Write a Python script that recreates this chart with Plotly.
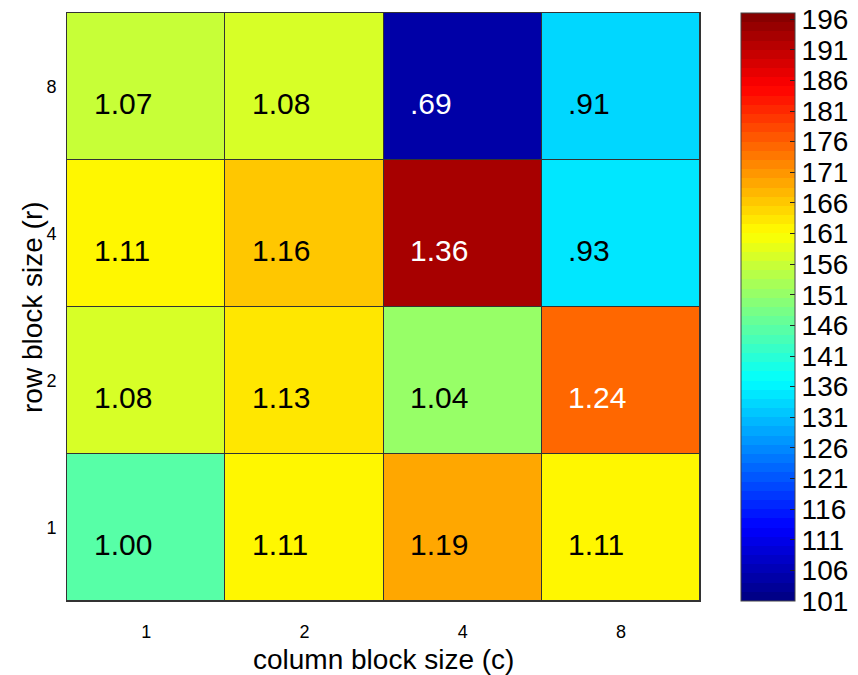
import plotly.graph_objects as go

col_labels = ["1", "2", "4", "8"]
row_labels = ["1", "2", "4", "8"]
# color values (Mflop/s) per row (r = 1, 2, 4, 8 bottom to top), columns c = 1, 2, 4, 8
color_vals = [
    [145.5, 161, 169, 161],
    [156.5, 163, 151, 175],
    [161, 166, 193, 134],
    [155, 156.5, 104, 133.5],
]
speedup_text = [
    ["1.00", "1.11", "1.19", "1.11"],
    ["1.08", "1.13", "1.04", "1.24"],
    ["1.11", "1.16", "1.36", ".93"],
    ["1.07", "1.08", ".69", ".91"],
]
text_white = [
    [0, 0, 0, 0],
    [0, 0, 0, 1],
    [0, 0, 1, 0],
    [0, 0, 1, 0],
]
cbar_ticks = [101, 106, 111, 116, 121, 126, 131, 136, 141, 146, 151, 156,
              161, 166, 171, 176, 181, 186, 191, 196]
cmin, cmax = 101, 197


def jet_rgb(x):
    def c(v):
        return max(0.0, min(1.0, v))
    r = c(1.5 - abs(4 * x - 3))
    g = c(1.5 - abs(4 * x - 2))
    b = c(1.5 - abs(4 * x - 1))
    return f"rgb({int(r*255)},{int(g*255)},{int(b*255)})"


N = 64
colorscale = []
for i in range(N):
    col = jet_rgb((i + 0.5) / N)
    colorscale.append([i / N, col])
    colorscale.append([(i + 1) / N, col])

xs = list(range(len(col_labels)))
ys = list(range(len(row_labels)))

FONT = "Liberation Sans"
PW, PH = 633, 588

fig = go.Figure()
fig.add_trace(go.Heatmap(
    x=xs, y=ys, z=color_vals,
    zmin=cmin, zmax=cmax,
    colorscale=colorscale,
    xgap=1, ygap=1,
    hoverinfo="skip",
    colorbar=dict(
        x=(741 - 67) / PW, xanchor="left", xpad=0, y=0, yanchor="bottom", ypad=0,
        len=1, lenmode="fraction", thickness=54, thicknessmode="pixels",
        outlinecolor="#444", outlinewidth=1,
        tickvals=cbar_ticks, ticktext=[str(t) for t in cbar_ticks],
        ticks="inside", ticklen=5, tickcolor="#222",
        tickfont=dict(size=28, color="black", family=FONT),
    ),
))

annotations = []
for ri in range(len(row_labels)):
    for ci in range(len(col_labels)):
        annotations.append(dict(
            x=ci - 0.345, y=ri - 0.115, xref="x", yref="y",
            text=speedup_text[ri][ci], showarrow=False,
            xanchor="left", yanchor="middle",
            font=dict(size=30, family=FONT,
                      color="white" if text_white[ri][ci] else "black"),
        ))

annotations.append(dict(
    x=0.5, y=-(659 - 601) / PH, xref="paper", yref="paper",
    text="column block size (c)", showarrow=False,
    xanchor="center", yanchor="middle",
    font=dict(size=28, family=FONT, color="black"),
))
annotations.append(dict(
    x=-(67 - 32) / PW, y=0.5, xref="paper", yref="paper",
    text="row block size (r)", showarrow=False, textangle=-90,
    xanchor="center", yanchor="middle",
    font=dict(size=28, family=FONT, color="black"),
))

fig.update_layout(
    width=858, height=675,
    margin=dict(l=67, r=158, t=13, b=74, autoexpand=False),
    paper_bgcolor="white", plot_bgcolor="#333",
    annotations=annotations,
    font=dict(family=FONT, color="black"),
)
fig.update_xaxes(
    range=[-0.5, 3.5], tickvals=xs, ticktext=col_labels,
    showgrid=False, zeroline=False,
    showline=True, linecolor="#333", linewidth=1, mirror=True,
    ticks="", ticklabelstandoff=14,
    tickfont=dict(size=18, color="black", family=FONT),
)
fig.update_yaxes(
    range=[-0.5, 3.5], tickvals=ys, ticktext=row_labels,
    showgrid=False, zeroline=False,
    showline=True, linecolor="#333", linewidth=1, mirror=True,
    ticks="", ticklabelstandoff=6,
    tickfont=dict(size=18, color="black", family=FONT),
)

fig.write_html("out.html",
               config={"displayModeBar": False},
               post_script="document.body.style.margin='0';document.body.style.padding='0';")
